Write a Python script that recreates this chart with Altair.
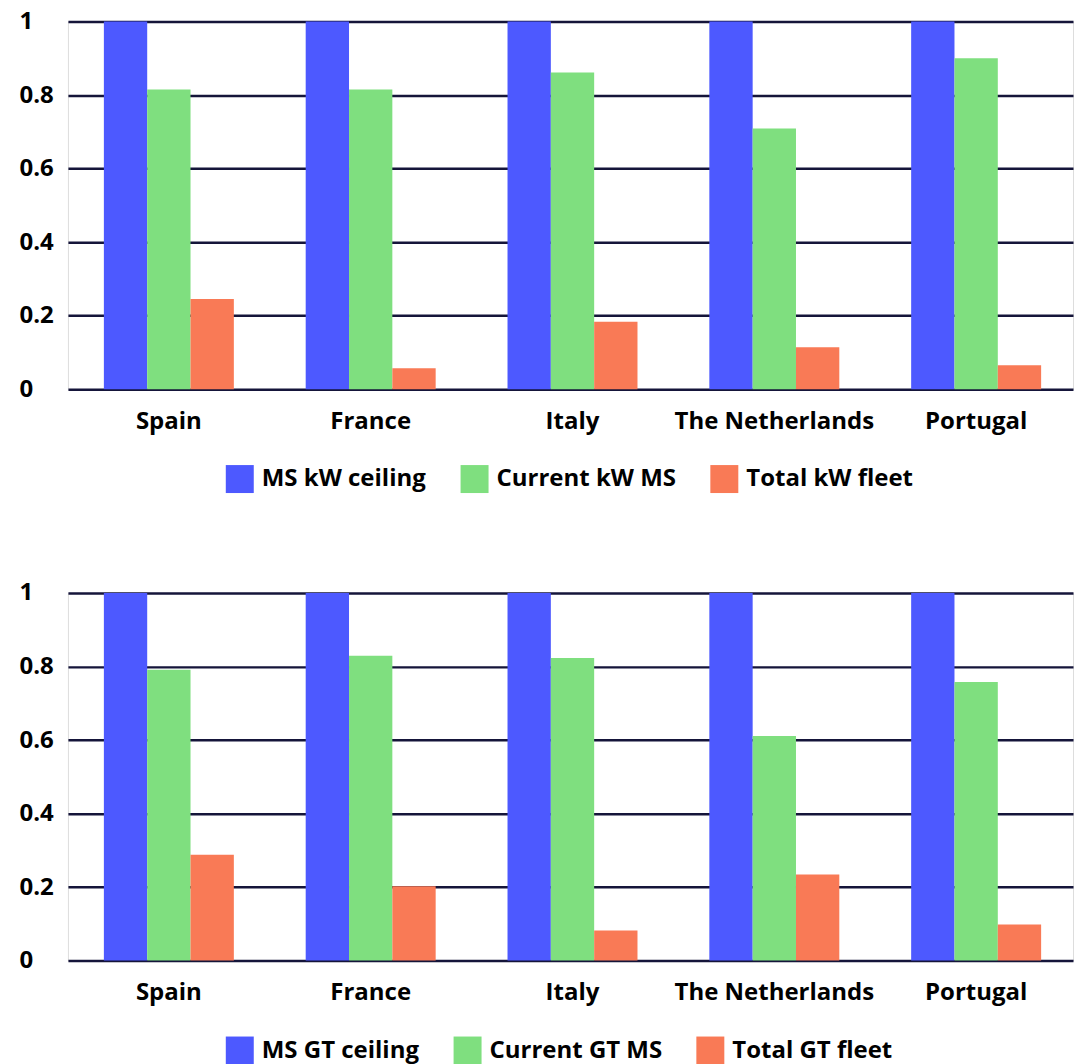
import altair as alt
import pandas as pd

countries = ["Spain", "France", "Italy", "The Netherlands", "Portugal"]

kw_series = ["MS kW ceiling", "Current kW MS", "Total kW fleet"]
kw_ceiling = [1.0, 1.0, 1.0, 1.0, 1.0]
kw_current = [0.815, 0.815, 0.861, 0.709, 0.900]
kw_fleet = [0.245, 0.057, 0.183, 0.114, 0.065]

gt_series = ["MS GT ceiling", "Current GT MS", "Total GT fleet"]
gt_ceiling = [1.0, 1.0, 1.0, 1.0, 1.0]
gt_current = [0.791, 0.829, 0.823, 0.611, 0.758]
gt_fleet = [0.288, 0.202, 0.082, 0.234, 0.098]

y_ticks = [0, 0.2, 0.4, 0.6, 0.8, 1]
colors = ["#4d59ff", "#7fdf7f", "#f97a56"]

FONT = "Open Sans"


def make_chart(series, value_lists):
    rows = []
    for s, vals in zip(series, value_lists):
        for c, v in zip(countries, vals):
            rows.append({"country": c, "series": s, "value": v})
    df = pd.DataFrame(rows)
    return alt.Chart(df).mark_bar().encode(
        x=alt.X(
            "country:N",
            sort=countries,
            scale=alt.Scale(paddingInner=0.356, paddingOuter=0.168, align=0.53),
            axis=alt.Axis(
                title=None, labelAngle=0, ticks=False, domain=False, grid=False,
                labelFontSize=24, labelFontWeight="bold", labelColor="#000000",
                labelPadding=20, labelFont=FONT, labelLimit=400,
            ),
        ),
        xOffset=alt.XOffset("series:N", sort=series,
                            scale=alt.Scale(paddingInner=0, paddingOuter=0)),
        y=alt.Y(
            "value:Q",
            scale=alt.Scale(domain=[0, 1], nice=False),
            axis=alt.Axis(
                title=None, values=y_ticks, format="~g", ticks=False, domain=False,
                grid=True, gridColor="#15153a", gridWidth=2.5,
                labelFontSize=24, labelFontWeight="bold", labelColor="#000000",
                labelAlign="left", labelPadding=49, labelFont=FONT,
            ),
        ),
        color=alt.Color(
            "series:N",
            sort=series,
            scale=alt.Scale(domain=series, range=colors),
            legend=alt.Legend(
                orient="none", legendX=158, legendY=444, direction="horizontal",
                title=None, symbolType="square", symbolSize=784,
                symbolStrokeWidth=0, labelFontSize=24, labelFontWeight="bold",
                labelColor="#000000", labelFont=FONT, labelOffset=8,
                columnPadding=34, labelLimit=400,
            ),
        ),
    ).properties(width=1006, height=368)


top = make_chart(kw_series, [kw_ceiling, kw_current, kw_fleet])
bottom = make_chart(gt_series, [gt_ceiling, gt_current, gt_fleet])

chart = alt.vconcat(top, bottom, spacing=86).resolve_scale(
    color="independent", xOffset="independent"
).properties(
    padding={"left": 18, "top": 8, "right": 0, "bottom": 0}
).configure_view(stroke=None).configure(font=FONT)

chart.save("out.html", embed_options={"renderer": "svg", "actions": False})
